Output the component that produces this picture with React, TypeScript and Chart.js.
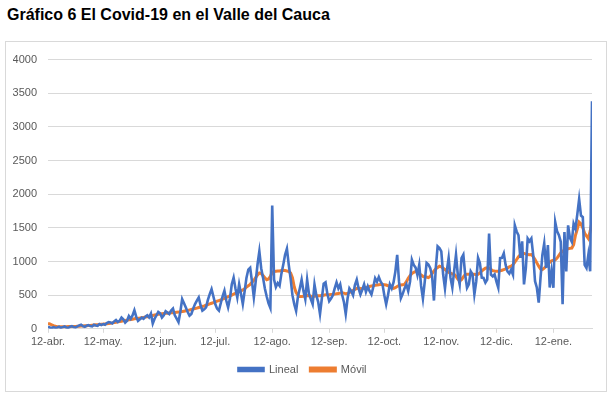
import React, { useEffect, useRef } from "react";
import { Chart, registerables } from "chart.js";

Chart.register(...registerables);

const TITLE = "Gráfico 6 El Covid-19 en el Valle del Cauca";

// daily cases, 12-abr-2020 .. 2-feb-2021
const LINEAL: number[] = [
  30, 20, 10, 25, 15, 20, 30, 15, 25, 35, 20, 15, 30, 40, 25, 20, 35, 50, 60, 40, 30, 45, 55, 40, 35, 60, 50, 45, 70, 55,
  70, 60, 85, 100, 93, 80, 110, 130, 100, 120, 167, 140, 93, 120, 190, 150, 200, 275, 180, 118, 140, 167, 150, 180, 200, 170, 225, 78, 150, 200, 250,
  230, 167, 200, 260, 240, 220, 270, 300, 200, 150, 100, 250, 441, 380, 318, 250, 196, 220, 300, 368, 420, 465, 350, 270, 290, 318, 430, 515, 588, 480,
  368, 300, 270, 380, 480, 564, 420, 318, 450, 662, 760, 600, 465, 662, 520, 368, 560, 760, 880, 906, 700, 465, 700, 955, 1152, 900, 760, 600, 480, 380, 310,
  1830, 730, 620, 680, 640, 820, 950, 1100, 1190, 950, 750, 500, 365, 265, 480, 600, 730, 560, 440, 730, 520, 440, 365, 660, 500, 400, 220, 450, 670, 690, 520,
  410, 450, 500, 600, 690, 600, 660, 510, 400, 220, 450, 600, 560, 500, 650, 730, 600, 510, 580, 660, 550, 630, 560, 510, 620, 750, 700, 770, 700, 660,
  500, 365, 500, 660, 600, 690, 850, 1100, 700, 455, 520, 600, 660, 560, 700, 1025, 950, 910, 800, 950, 640, 450, 700, 980, 955, 900, 780, 420, 900, 1225, 1200,
  1150, 810, 600, 860, 1054, 760, 613, 860, 1100, 800, 660, 1049, 1100, 805, 610, 662, 854, 809, 512, 700, 1054, 976, 760, 756, 686, 732, 1415, 805, 780, 809,
  700, 610, 1049, 1054, 1122, 950, 854, 820, 878, 805, 1537, 1446, 1390, 1054, 1300, 659, 900, 1341, 1300, 1341, 1100, 707, 610, 390, 760, 1098, 1268, 906, 1244, 613, 854,
  610, 1585, 1450, 1390, 1293, 366, 1439, 854, 1537, 1350, 1293, 1561, 1488, 1700, 1927, 1683, 1659, 951, 902, 1098, 854, 3380,
];

const MOVIL: number[] = [
  80, 72, 60, 48, 38, 32, 30, 30, 31, 32, 32, 33, 33, 34, 35, 36, 37, 38, 40, 42, 44, 46, 48, 50, 53, 56, 59, 62, 65, 68,
  70, 73, 76, 80, 84, 88, 93, 98, 103, 108, 113, 118, 123, 128, 133, 138, 143, 148, 152, 156, 160, 165, 170, 175, 180, 186, 192, 198, 204, 210, 215,
  220, 224, 228, 230, 232, 235, 238, 240, 242, 245, 248, 252, 256, 262, 268, 274, 280, 287, 294, 300, 308, 316, 324, 332, 340, 350, 360, 370, 380, 390,
  400, 410, 420, 430, 440, 452, 465, 478, 490, 502, 515, 528, 540, 552, 565, 578, 592, 620, 640, 660, 690, 720, 760, 800, 830, 820, 790, 760, 730, 740, 780,
  840, 850, 855, 860, 860, 865, 870, 865, 860, 850, 830, 760, 620, 540, 500, 480, 480, 485, 490, 495, 490, 485, 480, 485, 490, 490, 490, 495, 500, 505, 505,
  505, 508, 510, 515, 520, 525, 530, 535, 530, 520, 525, 540, 555, 570, 585, 600, 605, 600, 595, 600, 610, 620, 630, 635, 640, 645, 650, 655, 660, 660,
  655, 650, 640, 625, 610, 600, 610, 630, 645, 650, 655, 660, 700, 750, 790, 820, 840, 850, 850, 820, 800, 780, 770, 770, 760, 780, 820, 860, 890, 910, 930,
  920, 900, 880, 860, 840, 825, 815, 809, 780, 740, 711, 730, 770, 805, 810, 810, 809, 810, 810, 805, 810, 830, 860, 880, 900, 906, 900, 880, 865, 858,
  855, 854, 860, 870, 880, 890, 905, 920, 931, 951, 990, 1030, 1070, 1100, 1127, 1120, 1110, 1105, 1100, 1103, 1073, 1030, 980, 930, 890, 880, 900, 927, 960, 990, 1010,
  1020, 1024, 1050, 1090, 1130, 1152, 1170, 1180, 1190, 1195, 1200, 1250, 1390, 1480, 1585, 1560, 1500, 1420, 1380, 1341, 1450, 1585,
];

// day index (from 12-abr.) of each month tick and its label
const TICK_DAYS = [0, 30, 61, 91, 122, 153, 183, 214, 244, 275];
const TICK_LABELS = ["12-abr.", "12-may.", "12-jun.", "12-jul.", "12-ago.", "12-sep.", "12-oct.", "12-nov.", "12-dic.", "12-ene."];

const Y_MAX = 4000;
const Y_STEP = 500;

export default function App() {
  const ref = useRef<HTMLCanvasElement | null>(null);

  useEffect(() => {
    if (!ref.current) return;
    const font = { family: "'Liberation Sans', Arial, sans-serif", size: 11 };
    const chart = new Chart(ref.current, {
      type: "line",
      data: {
        datasets: [
          {
            label: "Lineal",
            data: LINEAL.map((v, i) => ({ x: i, y: v })),
            borderColor: "#4472C4",
            backgroundColor: "#4472C4",
            borderWidth: 2.6,
            pointRadius: 0,
            tension: 0,
          },
          {
            label: "Móvil",
            data: MOVIL.map((v, i) => ({ x: i, y: v })),
            borderColor: "#ED7D31",
            backgroundColor: "#ED7D31",
            borderWidth: 3,
            pointRadius: 0,
            tension: 0,
          },
        ],
      },
      options: {
        animation: false,
        responsive: false,
        maintainAspectRatio: false,
        layout: { padding: { left: 7, right: 14, top: 9, bottom: 6 } },
        plugins: {
          legend: {
            position: "bottom",
            labels: {
              font,
              color: "#595959",
              boxWidth: 25,
              boxHeight: 3,
              padding: 12,
            },
          },
          tooltip: { enabled: false },
        },
        scales: {
          x: {
            type: "linear",
            min: 0,
            max: LINEAL.length - 1,
            afterBuildTicks: (scale: any) => {
              scale.ticks = TICK_DAYS.map((v) => ({ value: v }));
            },
            ticks: {
              font,
              color: "#595959",
              maxRotation: 0,
              minRotation: 0,
              autoSkip: false,
              padding: 3,
              callback: (v: any) => {
                const i = TICK_DAYS.indexOf(Number(v));
                return i >= 0 ? TICK_LABELS[i] : null;
              },
            },
            grid: { drawOnChartArea: false, drawTicks: true, tickLength: 4, color: "#d9d9d9" },
            border: { display: true, color: "#d9d9d9" },
          },
          y: {
            min: 0,
            max: Y_MAX,
            afterFit: (scale: any) => {
              scale.width = 35;
            },
            ticks: {
              stepSize: Y_STEP,
              font,
              color: "#595959",
              padding: 11,
              callback: (v: any) => String(v),
            },
            grid: { color: "#d9d9d9", drawTicks: false },
            border: { display: false },
          },
        },
      },
    } as any);
    return () => chart.destroy();
  }, []);

  return (
    <div style={{ position: "absolute", left: 0, top: 0, width: 615, height: 398, background: "#fff" }}>
      <div
        style={{
          position: "absolute",
          left: 7,
          top: 6,
          fontFamily: "'Liberation Sans', Arial, sans-serif",
          fontWeight: "bold",
          fontSize: 16,
          color: "#000",
          whiteSpace: "nowrap",
        }}
      >
        {TITLE}
      </div>
      <div
        style={{
          position: "absolute",
          left: 5,
          top: 41,
          width: 600,
          height: 349,
          border: "1px solid #d9d9d9",
        }}
      >
        <canvas ref={ref} width={600} height={349} style={{ display: "block" }} />
      </div>
    </div>
  );
}
